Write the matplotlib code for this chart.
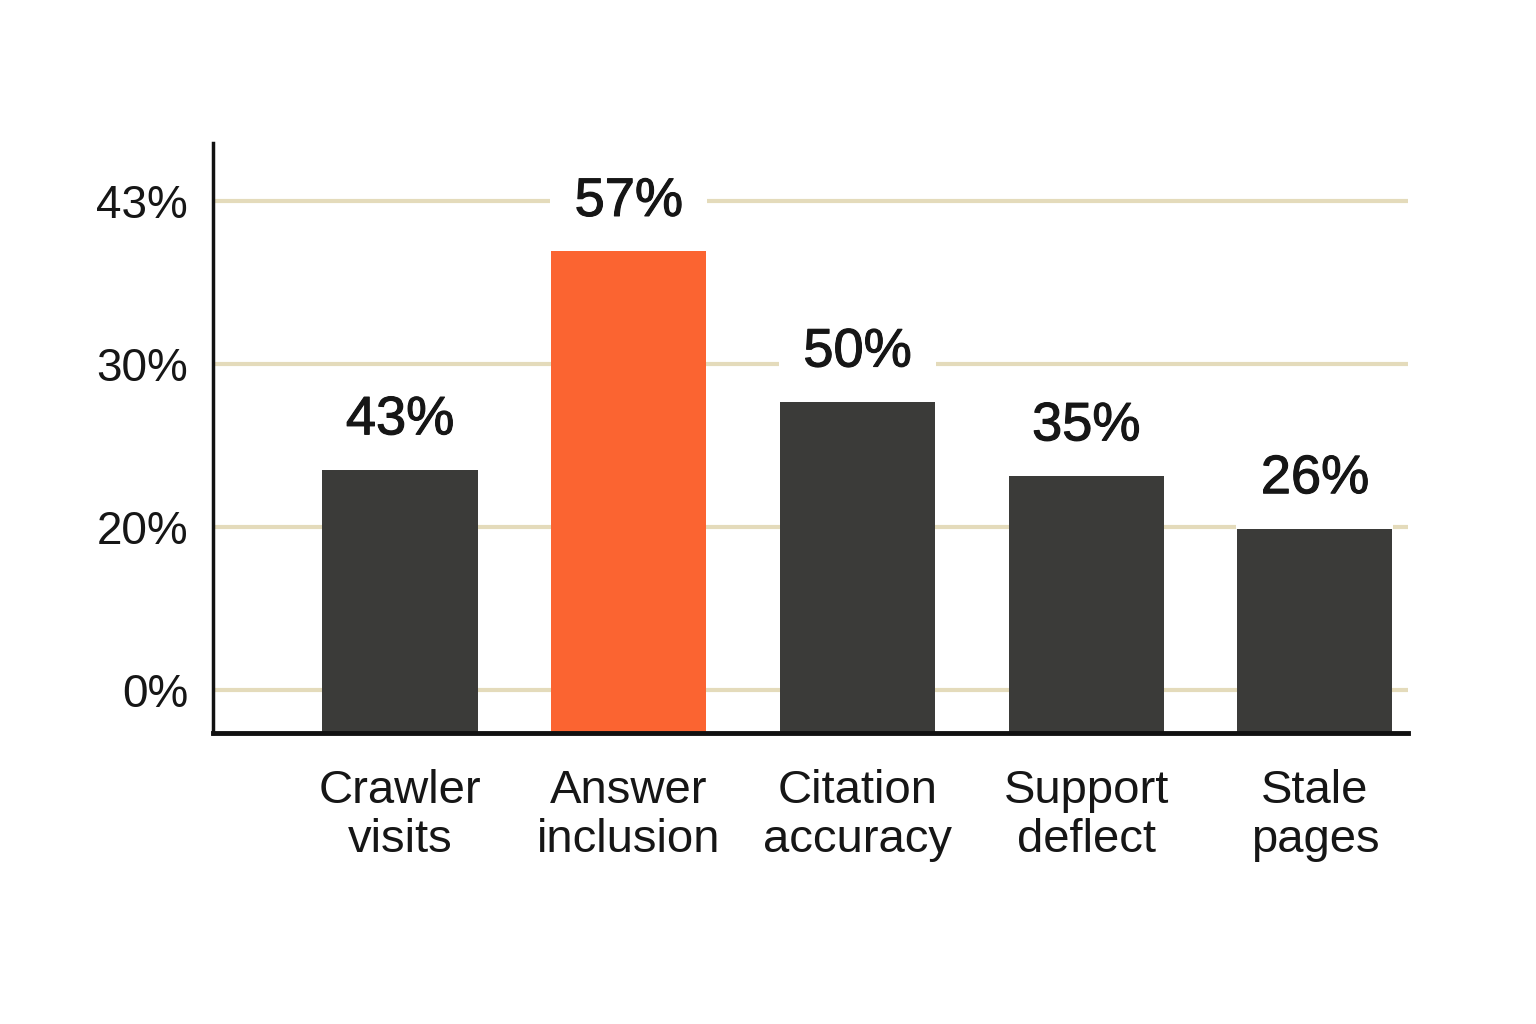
import matplotlib
matplotlib.use("Agg")
import matplotlib.pyplot as plt
import matplotlib.patheffects as pe
import numpy as np

# categories and values
categories = ["Crawler\nvisits", "Answer\ninclusion", "Citation\naccuracy",
              "Support\ndeflect", "Stale\npages"]
value_labels = ["43%", "57%", "50%", "35%", "26%"]
# bar tops, in gridline steps (the axis is drawn with evenly spaced gridlines)
bar_tops = [1.39, 2.73, 1.806, 1.353, 1.029]
tick_labels = ["0%", "20%", "30%", "43%"]

BAR_DARK = "#3b3b39"
BAR_HIGHLIGHT = "#fb6431"
GRID = "#e4dbbb"
TEXT = "#161616"

plt.rcParams['font.family'] = ['Liberation Sans', 'DejaVu Sans']

fig = plt.figure(figsize=(15.36, 10.24), dpi=100)
ax = fig.add_axes([0.1387, 0.2842, 0.778, 0.5762])

y_min, y_max = -0.264, 3.356
x = np.arange(len(categories))
colors = [BAR_HIGHLIGHT if i == 1 else BAR_DARK for i in range(len(categories))]

heights = [t - y_min for t in bar_tops]
ax.bar(x, heights, bottom=y_min, width=0.678, color=colors, zorder=2)

# gridlines at evenly spaced tick positions
ticks = np.arange(len(tick_labels))
for t in ticks:
    ax.axhline(t, color=GRID, linewidth=3, zorder=1)

# value labels above bars, with white box that breaks the gridlines
heavy = [pe.withStroke(linewidth=0.8, foreground=TEXT)]
for xi, top, lab in zip(x, bar_tops, value_labels):
    ax.annotate(lab, xy=(xi, top), xytext=(0, 31), textcoords='offset points',
                ha='center', va='center', fontsize=39, color=TEXT,
                path_effects=heavy,
                bbox=dict(boxstyle='square,pad=0.45', fc='white', ec='none'),
                zorder=3)

ax.set_ylim(y_min, y_max)
ax.set_xlim(-0.8175, 4.407)
ax.set_yticks(ticks)
ax.set_yticklabels(tick_labels, fontsize=33, color=TEXT)
ax.set_xticks(x)
ax.set_xticklabels(categories, fontsize=34, color=TEXT, linespacing=1.15)
ax.tick_params(axis='both', length=0)
ax.tick_params(axis='y', pad=18)
ax.tick_params(axis='x', pad=26)

for side in ['top', 'right']:
    ax.spines[side].set_visible(False)
ax.spines['left'].set_linewidth(2.5)
ax.spines['bottom'].set_linewidth(3.5)
ax.spines['left'].set_color('#111111')
ax.spines['bottom'].set_color('#111111')

fig.savefig("out.png", dpi=100, facecolor='white')
